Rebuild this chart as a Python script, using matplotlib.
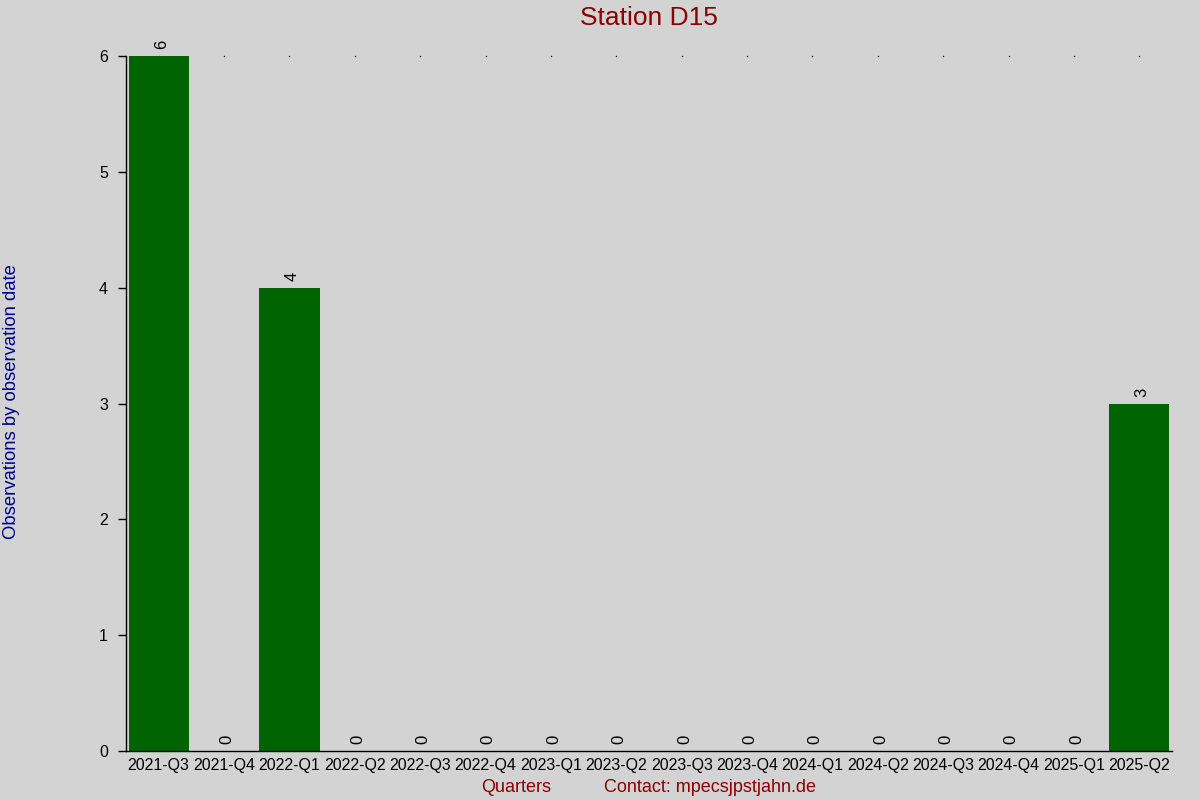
import matplotlib
matplotlib.use("Agg")
import matplotlib.pyplot as plt
import numpy as np

quarters = ["2021-Q3", "2021-Q4", "2022-Q1", "2022-Q2", "2022-Q3", "2022-Q4",
            "2023-Q1", "2023-Q2", "2023-Q3", "2023-Q4", "2024-Q1", "2024-Q2",
            "2024-Q3", "2024-Q4", "2025-Q1", "2025-Q2"]
counts = [6, 0, 4, 0, 0, 0, 0, 0, 0, 0, 0, 0, 0, 0, 0, 3]
yticks = [0, 1, 2, 3, 4, 5, 6]

plt.rcParams['font.family'] = ['Liberation Sans', 'DejaVu Sans']

bg = '#d3d3d3'
fig = plt.figure(figsize=(12, 8), dpi=100, facecolor=bg)
ax = fig.add_axes([126/1200, 1-751/800, (1172-126)/1200, (751-56)/800])
ax.set_facecolor(bg)

x = np.arange(len(quarters))
bars = ax.bar(x, counts, width=0.92, color='#006400', zorder=2)
ax.plot(x, [max(counts)] * len(x), ls='none', marker='o', ms=1.0, mew=0,
        color='black', zorder=1, clip_on=False)

for xi, v in zip(x, counts):
    ax.annotate(str(v), (xi, v), xytext=(2, 5), textcoords='offset points',
                rotation=90, ha='center', va='bottom', fontsize=12, color='black')

ax.set_xlim(-0.5, len(quarters) - 0.5)
ax.set_ylim(0, 6)
ax.set_yticks(yticks)
ax.set_xticks(x)
ax.set_xticklabels(quarters)
ax.tick_params(axis='y', direction='out', length=6, width=1, pad=7, labelsize=11.5, colors='black')
ax.tick_params(axis='x', length=0, pad=5, labelsize=11.5, colors='black')
for s in ['top', 'right']:
    ax.spines[s].set_visible(False)
for s in ['left', 'bottom']:
    ax.spines[s].set_color('black')
    ax.spines[s].set_linewidth(1)

fig.text(649/1200, 1-18/800, "Station D15", ha='center', va='center', fontsize=19, color='#8b0000')
fig.text(12/1200, 1-402/800, "Observations by observation date", rotation=90,
         ha='center', va='center', fontsize=13.3, color='#00008b')
fig.text(516/1200, 1-787/800, "Quarters", ha='center', va='center', fontsize=13, color='#8b0000')
fig.text(710/1200, 1-787/800, "Contact: mpecsjpstjahn.de", ha='center', va='center', fontsize=13, color='#8b0000')

fig.savefig("out.png", dpi=100, facecolor=bg)
